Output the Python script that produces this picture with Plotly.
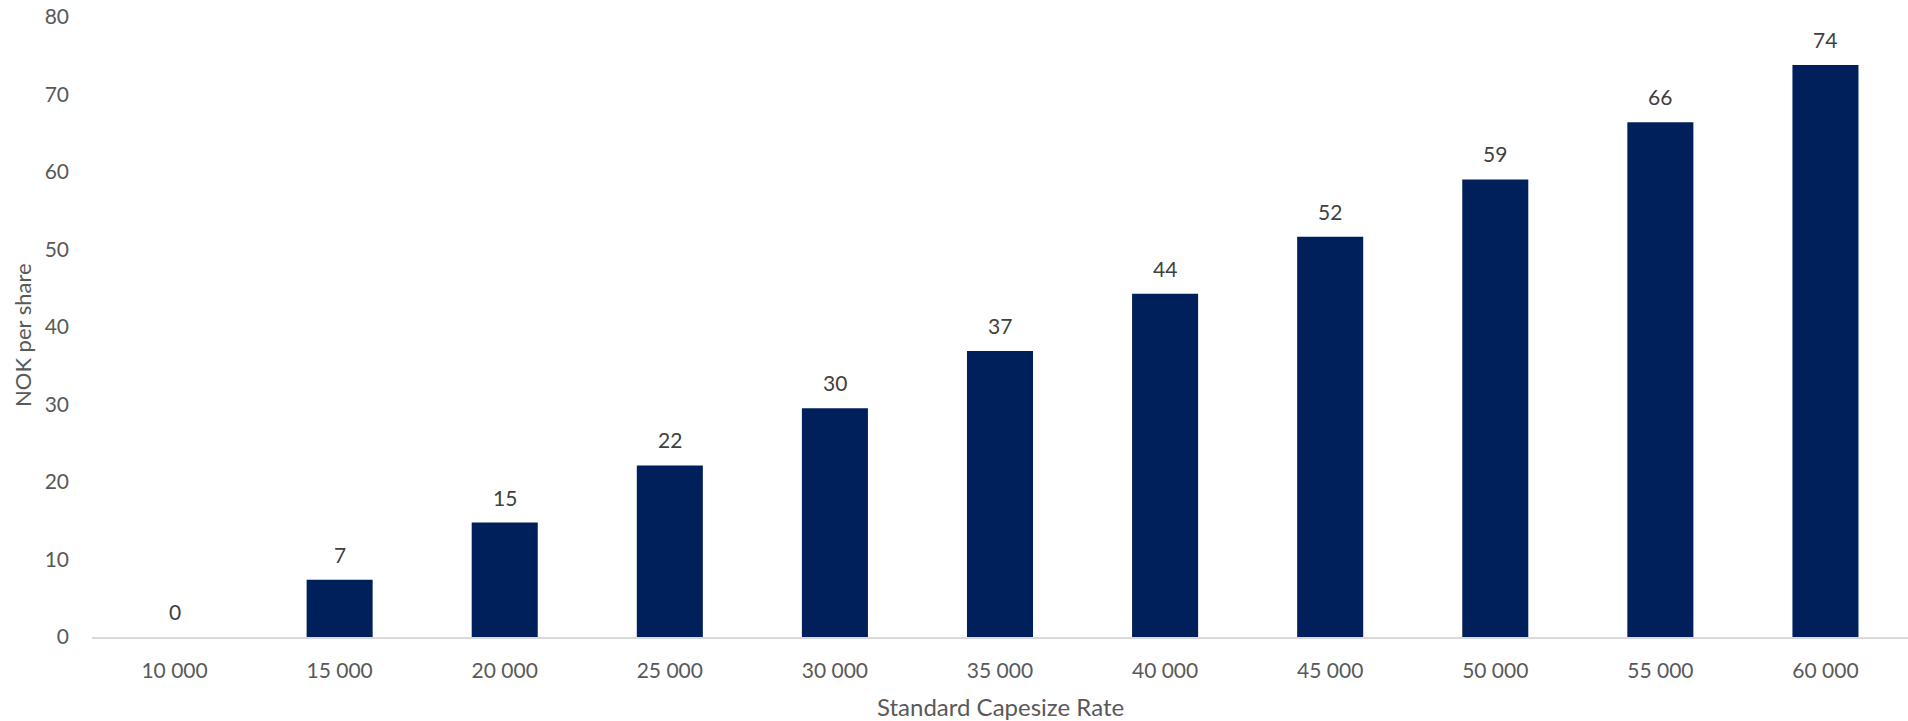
import plotly.graph_objects as go

categories = ["10 000", "15 000", "20 000", "25 000", "30 000", "35 000",
              "40 000", "45 000", "50 000", "55 000", "60 000"]
values = [0.0, 7.38, 14.76, 22.14, 29.52, 36.9, 44.28, 51.66, 59.04, 66.42, 73.8]
labels = ["0", "7", "15", "22", "30", "37", "44", "52", "59", "66", "74"]

W, H = 1908, 721
ML, MR, MT, MB = 92, 0, 17, 84
PW = W - ML - MR
PH = H - MT - MB

FONT = "Lato"

fig = go.Figure()
fig.add_trace(go.Bar(
    x=categories, y=values,
    marker=dict(color="#00205B", line=dict(width=0)),
    hoverinfo="skip",
))

for c, v, t in zip(categories, values, labels):
    fig.add_annotation(x=c, y=v, xref="x", yref="y", text=t, showarrow=False,
                       yanchor="bottom", yshift=11,
                       font=dict(family=FONT, size=21, color="#404040"))

# axis titles
fig.add_annotation(x=0.5, y=(H - MB - 707) / PH, xref="paper", yref="paper",
                   text="Standard Capesize Rate", showarrow=False,
                   xanchor="center", yanchor="middle",
                   font=dict(family=FONT, size=24, color="#595959"))
fig.add_annotation(x=(22 - ML) / PW, y=(H - MB - 335) / PH, xref="paper", yref="paper",
                   text="NOK per share", showarrow=False, textangle=-90,
                   xanchor="center", yanchor="middle",
                   font=dict(family=FONT, size=22, color="#595959"))

fig.update_layout(
    width=W, height=H,
    margin=dict(l=ML, r=MR, t=MT, b=MB, pad=0),
    paper_bgcolor="white", plot_bgcolor="white",
    showlegend=False,
    bargap=0.6,
    font=dict(family=FONT, size=21, color="#595959"),
)
fig.update_xaxes(type="category", showline=True, linecolor="#D9D9D9", linewidth=2,
                 showgrid=False, ticks="", ticklabelstandoff=14,
                 tickfont=dict(family=FONT, size=21, color="#595959"))
fig.update_yaxes(range=[0, 80], dtick=10, showgrid=False, zeroline=False,
                 showline=False, ticks="", ticklabelstandoff=22,
                 tickfont=dict(family=FONT, size=21, color="#595959"))

fig.write_html("out.html")
